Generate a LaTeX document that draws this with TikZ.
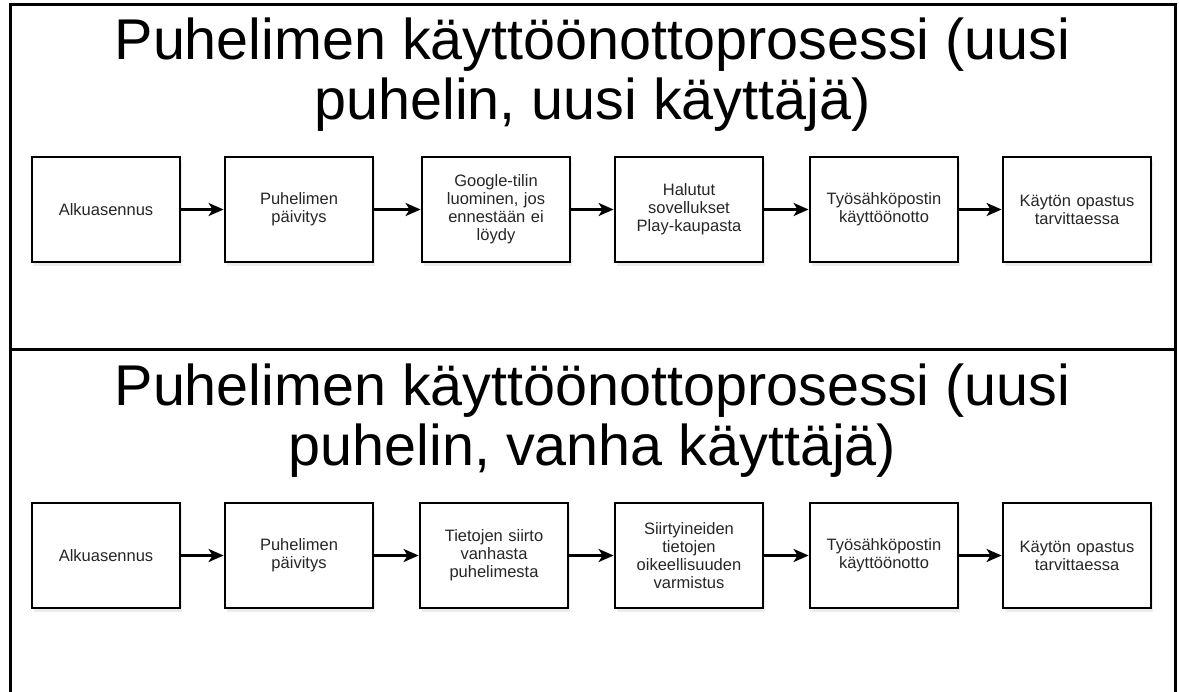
\documentclass[tikz,border=0pt]{standalone}
\usepackage{fontspec}
\setmainfont{Liberation Sans}
\usetikzlibrary{arrows.meta,shadows}
\definecolor{boxtext}{HTML}{262626}
\tikzset{
  frameline/.style={line width=3pt, draw=black},
  titletext/.style={anchor=north, inner sep=0pt, align=center, text=black,
    font=\fontsize{57.5}{60}\selectfont},
  stepbox/.style={draw=black, line width=2.8pt, fill=white, minimum width=148pt,
    minimum height=105pt, inner sep=2pt, align=center, text width=140pt,
    text=boxtext, font=\fontsize{16.5}{18}\selectfont,
    drop shadow={opacity=0.15, shadow xshift=2pt, shadow yshift=-4pt}},
  flow/.style={line width=3pt, -{Stealth[length=15pt,width=13pt,inset=4pt]}}
}
\begin{document}
\begin{tikzpicture}[x=1pt,y=-1pt]
\useasboundingbox (0,0) rectangle (1179,692);
% frames
\draw[frameline] (10,692) -- (10,5) -- (1175,5) -- (1175,692);
\draw[frameline] (10,350) -- (1175,350);
% titles
\node[titletext] (t1) at (592.5,18) {Puhelimen käyttöönottoprosessi (uusi\\puhelin, uusi käyttäjä)};
\node[titletext] (t2) at (592.5,364) {Puhelimen käyttöönottoprosessi (uusi\\puhelin, vanha käyttäjä)};
% top row
\node[stepbox] (a1) at (106,209.5) {Alkuasennus};
\node[stepbox] (a2) at (299,209.5) {Puhelimen\\päivitys};
\node[stepbox] (a3) at (496,209.5) {Google-tilin\\luominen, jos\\ennestään ei\\löydy};
\node[stepbox] (a4) at (689,209.5) {Halutut\\sovellukset\\Play-kaupasta};
\node[stepbox] (a5) at (884,209.5) {Työsähköpostin\\käyttöönotto};
\node[stepbox] (a6) at (1077,209.5) {Käytön opastus\\tarvittaessa};
% bottom row
\node[stepbox] (b1) at (106,555.5) {Alkuasennus};
\node[stepbox] (b2) at (299,555.5) {Puhelimen\\päivitys};
\node[stepbox] (b3) at (494,555.5) {Tietojen siirto\\vanhasta\\puhelimesta};
\node[stepbox] (b4) at (689,555.5) {Siirtyineiden\\tietojen\\oikeellisuuden\\varmistus};
\node[stepbox] (b5) at (884,555.5) {Työsähköpostin\\käyttöönotto};
\node[stepbox] (b6) at (1077,555.5) {Käytön opastus\\tarvittaessa};
% connectors
\foreach \i/\j in {1/2,2/3,3/4,4/5,5/6}{
  \draw[flow] (a\i) -- (a\j);
  \draw[flow] (b\i) -- (b\j);
}
\end{tikzpicture}
\end{document}
